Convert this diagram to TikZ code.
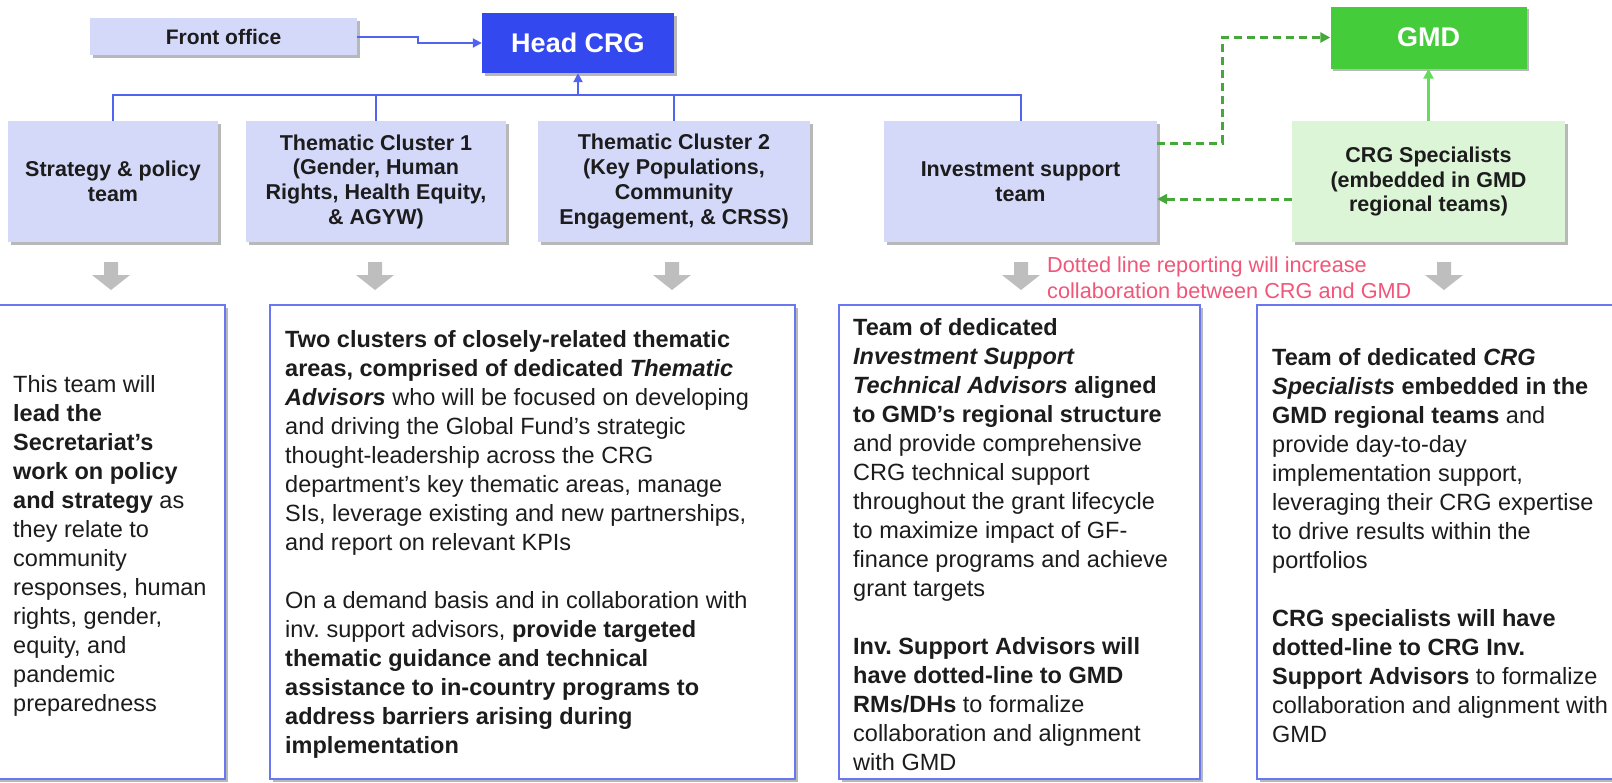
\documentclass[tikz,border=0pt]{standalone}
\usepackage{fontspec}
\setmainfont{Liberation Sans}
\usetikzlibrary{arrows.meta,shadows,calc}
\frenchspacing
\definecolor{lav}{RGB}{212,217,250}
\definecolor{headblue}{RGB}{52,72,240}
\definecolor{connblue}{RGB}{80,100,240}
\definecolor{bord}{RGB}{105,120,240}
\definecolor{gmdgreen}{RGB}{68,204,58}
\definecolor{lgreen}{RGB}{220,245,215}
\definecolor{dgreen}{RGB}{70,168,58}
\definecolor{sgreen}{RGB}{100,220,90}
\definecolor{arrgray}{RGB}{190,190,190}
\definecolor{redtxt}{RGB}{242,85,120}
\definecolor{txt}{RGB}{28,28,28}
\begin{document}
\begin{tikzpicture}[x=1pt,y=-1pt,
  shad/.style={drop shadow={shadow xshift=2.5pt,shadow yshift=-2.5pt,fill=black,opacity=0.28}},
  l2box/.style={shad,fill=lav,draw=none,minimum width=#1,minimum height=121pt,inner sep=0pt,
    font=\fontsize{21.5}{24.7}\selectfont\bfseries,text=txt,align=center},
  bbox/.style={shad,draw=bord,line width=2pt,fill=white,minimum width=#1,minimum height=474pt,inner sep=0pt},
  btext/.style={anchor=west,align=left,inner sep=0pt,text=txt,font=\fontsize{23.5}{29}\selectfont},
  conn/.style={draw=connblue,line width=2pt},
  gdash/.style={draw=dgreen,line width=3pt,dash pattern=on 8pt off 5pt},
  tipb/.style={-{Triangle[length=9pt,width=9pt]}}
]
\useasboundingbox (0,0) rectangle (1612,782);
\fill[white] (0,0) rectangle (1612,782);

% top row
\node[shad,fill=lav,minimum width=267pt,minimum height=37pt,inner sep=0pt,
  font=\fontsize{21}{24}\selectfont\bfseries,text=txt] (front) at (223.5,36.5) {Front office};
\node[shad,fill=headblue,minimum width=192pt,minimum height=60pt,inner sep=0pt,
  font=\fontsize{27}{30}\selectfont\bfseries,text=white] (head) at (578,43) {Head CRG};
\node[shad,fill=gmdgreen,minimum width=196pt,minimum height=62pt,inner sep=0pt,
  font=\fontsize{27}{30}\selectfont\bfseries,text=white] (gmd) at (1428.5,37.5) {GMD};

% level 2
\node[l2box=210pt] (strat) at (113,181.5) {Strategy \& policy\\team};
\node[l2box=260pt] (tc1) at (376,181.5) {Thematic Cluster 1\\(Gender, Human\\Rights, Health Equity,\\\& AGYW)};
\node[l2box=272pt] (tc2) at (674,181.5) {Thematic Cluster 2\\(Key Populations,\\Community\\Engagement, \& CRSS)};
\node[l2box=273pt] (inv) at (1020.5,181.5) {Investment support\\team};
\node[l2box=273pt,fill=lgreen] (crgs) at (1428.5,181.5) {CRG Specialists\\(embedded in GMD\\regional teams)};

% connectors
\draw[conn,tipb] (front.east) -- ++(61,0) |- (head.west);
\coordinate (tj) at (head.south |- 0,95);
\draw[conn,tipb] (tj) -- (head.south);
\draw[conn] (strat.north) -- (strat.north |- tj) -- (inv.north |- tj) -- (inv.north);
\draw[conn] (tc1.north) -- (tc1.north |- tj);
\draw[conn] (tc2.north) -- (tc2.north |- tj);
\draw[gdash,-{Triangle[length=10pt,width=10pt]}] ([yshift=38.5pt]inv.east) -- ++(65,0) |- (gmd.west);
\draw[gdash,-{Triangle[length=10pt,width=10pt]}] ([yshift=-17.5pt]crgs.west) -- ([yshift=-17.5pt]inv.east);
\draw[draw=sgreen,line width=2.5pt,-{Triangle[length=10pt,width=10pt]}] (crgs.north) -- (gmd.south);

% gray block arrows
\foreach \x in {111,375,672,1021,1444}
  \fill[arrgray] (\x-7,262) -- (\x+7,262) -- (\x+7,275) -- (\x+19,275) -- (\x,290)
    -- (\x-19,275) -- (\x-7,275) -- cycle;

\node[anchor=west,align=left,inner sep=0pt,text=redtxt,font=\fontsize{21.7}{26}\selectfont] (note)
  at (1047,278) {Dotted line reporting will increase\\collaboration between CRG and GMD};

% bottom boxes
\node[bbox=228pt] (b1) at (111,542) {};
\node[bbox=525pt] (b2) at (532.5,542) {};
\node[bbox=361pt] (b3) at (1019.5,542) {};
\node[bbox=370pt] (b4) at (1442,542) {};

\node[btext] (t1) at (13,545.5) {This team will\\
\textbf{lead the}\\
\textbf{Secretariat's}\\
\textbf{work on policy}\\
\textbf{and strategy} as\\
they relate to\\
community\\
responses, human\\
rights, gender,\\
equity, and\\
pandemic\\
preparedness};

\node[btext] (t2) at (285,544) {\textbf{Two clusters of closely-related thematic}\\
\textbf{areas, comprised of dedicated \textit{Thematic}}\\
\textbf{\textit{Advisors}} who will be focused on developing\\
and driving the Global Fund's strategic\\
thought-leadership across the CRG\\
department's key thematic areas, manage\\
SIs, leverage existing and new partnerships,\\
and report on relevant KPIs\\[29pt]
On a demand basis and in collaboration with\\
inv. support advisors, \textbf{provide targeted}\\
\textbf{thematic guidance and technical}\\
\textbf{assistance to in-country programs to}\\
\textbf{address barriers arising during}\\
\textbf{implementation}};

\node[btext] (t3) at (853,545) {\textbf{Team of dedicated}\\
\textbf{\textit{Investment Support}}\\
\textbf{\textit{Technical Advisors} aligned}\\
\textbf{to GMD's regional structure}\\
and provide comprehensive\\
CRG technical support\\
throughout the grant lifecycle\\
to maximize impact of GF-\\
finance programs and achieve\\
grant targets\\[29pt]
\textbf{Inv. Support Advisors will}\\
\textbf{have dotted-line to GMD}\\
\textbf{RMs/DHs} to formalize\\
collaboration and alignment\\
with GMD};

\node[btext] (t4) at (1272,545.5) {\textbf{Team of dedicated \textit{CRG}}\\
\textbf{\textit{Specialists} embedded in the}\\
\textbf{GMD regional teams} and\\
provide day-to-day\\
implementation support,\\
leveraging their CRG expertise\\
to drive results within the\\
portfolios\\[29pt]
\textbf{CRG specialists will have}\\
\textbf{dotted-line to CRG Inv.}\\
\textbf{Support Advisors} to formalize\\
collaboration and alignment with\\
GMD};
\end{tikzpicture}
\end{document}
